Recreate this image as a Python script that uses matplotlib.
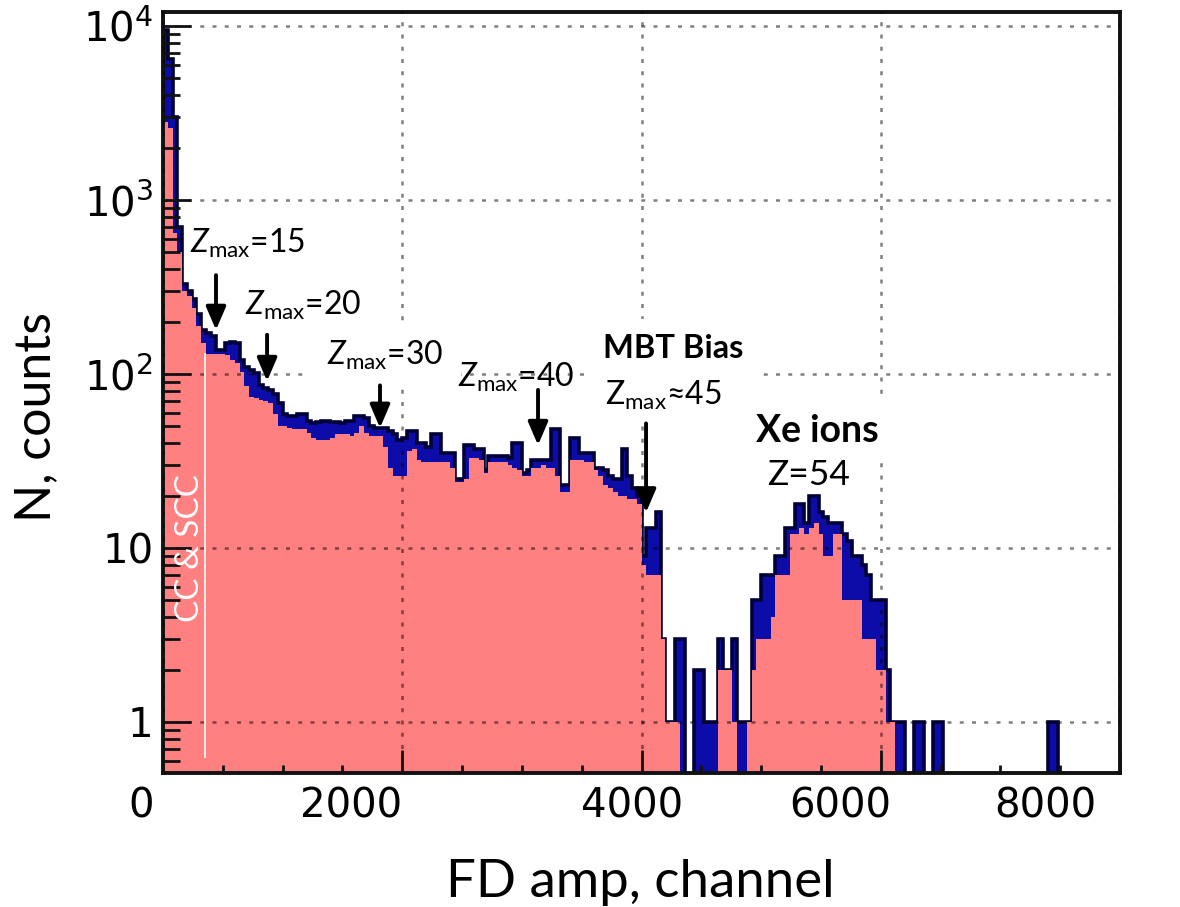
import numpy as np
import matplotlib
matplotlib.use("Agg")
import matplotlib.pyplot as plt
from matplotlib import transforms
from matplotlib.ticker import FixedLocator, FixedFormatter, LogLocator, MultipleLocator, NullFormatter

# histogram, 40 channels per bin
bin_width = 40
n_bins = 200

# total spectrum (blue)
blue_counts = [
    9500, 6500, 3000, 700, 330, 300, 270, 220, 178, 172,
    165, 137, 137, 150, 153, 150, 120, 110, 105, 101,
    86, 83, 81, 77, 68, 59, 57, 57, 59, 59,
    54, 52, 53, 54, 54, 53, 53, 52, 54, 54,
    57, 57, 56, 50, 49, 49, 49, 47, 45, 42,
    43, 47, 47, 40, 40, 38, 45, 45, 35, 35,
    35, 25, 25, 39, 39, 37, 37, 28, 34, 34,
    34, 34, 33, 40, 40, 27, 28, 32, 32, 32,
    32, 48, 48, 23, 23, 43, 43, 35, 35, 35,
    29, 29, 28, 26, 25, 25, 37, 26, 22, 20,
    9, 13, 13, 16, 3, 1, 1, 3, 3, 0,
    0, 2, 2, 1, 1, 1, 3, 2, 2, 3,
    1, 1, 1, 5, 5, 7, 7, 7, 9, 9,
    13, 13, 18, 18, 14, 20, 20, 16, 15, 14,
    14, 14, 12, 11, 9, 9, 8, 7, 5, 5,
    5, 2, 1, 1, 1, 0, 0, 1, 1, 0,
    0, 1, 1, 0, 0, 0, 0, 0, 0, 0,
    0, 0, 0, 0, 0, 0, 0, 0, 0, 0,
    0, 0, 0, 0, 0, 1, 1,
]

# selected events (red)
red_counts = [
    2800, 2600, 650, 500, 300, 280, 240, 190, 150, 131,
    131, 131, 131, 128, 120, 115, 103, 85, 74, 73,
    71, 70, 68, 59, 50, 50, 49, 48, 48, 48,
    46, 43, 42, 42, 42, 43, 45, 45, 45, 44,
    46, 50, 46, 44, 44, 44, 38, 29, 26, 26,
    26, 36, 37, 32, 31, 31, 31, 31, 31, 31,
    29, 24, 24, 25, 33, 33, 32, 27, 31, 31,
    31, 31, 30, 29, 28, 26, 26, 29, 29, 30,
    29, 29, 26, 21, 21, 32, 32, 32, 31, 31,
    28, 26, 23, 22, 21, 20, 20, 19, 19, 18,
    8, 7, 7, 7, 3, 1, 1, 1, 0, 0,
    0, 0, 0, 0, 0, 0, 2, 2, 2, 1,
    0, 0, 1, 2, 3, 3, 3, 4, 7, 7,
    7, 12, 12, 13, 12, 13, 14, 12, 9, 9,
    12, 12, 5, 5, 5, 5, 3, 3, 3, 2,
    2, 1, 1,
]

xtick_vals = [0, 2000, 4000, 6000, 8000]
xtick_shift_px = [-22, -51, -9, -40, -75]
ytick_vals = [1, 10, 100, 1000, 10000]
ytick_labels = ["1", "10", r"$\mathdefault{10^{2}}$", r"$\mathdefault{10^{3}}$", r"$\mathdefault{10^{4}}$"]

# Z_max markers
zmax_labels = [r"$\mathit{Z}_{\mathrm{max}}$=15", r"$\mathit{Z}_{\mathrm{max}}$=20",
               r"$\mathit{Z}_{\mathrm{max}}$=30", r"$\mathit{Z}_{\mathrm{max}}$=40"]
zmax_text_x = [226, 686, 1371, 2467]
zmax_text_y = [496, 218, 113, 84]
zmax_boxed = [False, False, True, False]
arrow_x = [443, 870, 1814, 3135, 4038]
arrow_tail = [370, 168, 86, 81, 52]
arrow_tip = [179, 91, 49, 39, 16]

cc_line_x = 350
cc_line_y = [0.63, 130]


def padded(counts):
    arr = np.full(n_bins, 1e-3)
    vals = np.array(counts, dtype=float)
    arr[:len(vals)] = np.where(vals > 0, vals, 1e-3)
    return arr


edges = np.arange(n_bins + 1) * bin_width
blue = padded(blue_counts)
red = padded(red_counts)

plt.rcParams["mathtext.fontset"] = "custom"
plt.rcParams["mathtext.rm"] = "Lato"
plt.rcParams["mathtext.it"] = "Lato:italic"
plt.rcParams["mathtext.bf"] = "Lato:bold"

W, H = 1180, 907
fig = plt.figure(figsize=(W / 100, H / 100), dpi=100)
ax = fig.add_axes([163 / W, 1 - 773 / H, (1120 - 163) / W, (773 - 12) / H])
ax.set_yscale("log")
ax.set_xlim(0, 8000)
ax.set_ylim(0.509, 12040)

ax.stairs(blue, edges, baseline=1e-3, fill=True, color="#0c0ca8", zorder=1)
ax.stairs(blue, edges, baseline=1e-3, fill=False, color="#000038", lw=2.6, zorder=1.2)
ax.stairs(red, edges, baseline=1e-3, fill=True, color="#ff8080", zorder=1.5)

# grid on top of the fills
ax.set_axisbelow(False)
ax.grid(True, which="major", color="k", alpha=0.5, lw=1.8, linestyle=(0, (1.6, 3.3)))

for s in ax.spines.values():
    s.set_linewidth(2.8)
    s.set_color("#111111")

ax.xaxis.set_major_locator(FixedLocator(xtick_vals))
ax.xaxis.set_minor_locator(MultipleLocator(500))
ax.yaxis.set_major_locator(FixedLocator(ytick_vals))
ax.yaxis.set_major_formatter(FixedFormatter(ytick_labels))
ax.yaxis.set_minor_locator(LogLocator(base=10, subs=np.arange(2, 10)))
ax.yaxis.set_minor_formatter(NullFormatter())
ax.tick_params(axis="both", which="both", direction="in", top=False, right=False, color="#111111")
ax.tick_params(axis="x", which="major", length=16.5, width=2, labelbottom=False)
ax.tick_params(axis="x", which="minor", length=6, width=2)
ax.tick_params(axis="y", which="major", length=20, width=2, pad=7, labelsize=29,
               labelfontfamily="DejaVu Sans")
ax.tick_params(axis="y", which="minor", length=12, width=2)
for lab in ax.get_yticklabels():
    lab.set_math_fontfamily("dejavusans")

# x tick labels, placed as in the original
xtrans = transforms.blended_transform_factory(ax.transData, ax.transAxes)
for v, dx in zip(xtick_vals, xtick_shift_px):
    off = transforms.ScaledTranslation(dx / 100, -13 / 100, fig.dpi_scale_trans)
    ax.text(v, 0, str(v), transform=xtrans + off, ha="center", va="top", fontsize=29,
            family="DejaVu Sans", clip_on=False)

lato = ["Lato", "DejaVu Sans"]
fig.text(640 / W, 1 - 882 / H, "FD amp, channel", family=lato, fontsize=38, ha="center", va="center")
fig.text(36 / W, 1 - 417 / H, "N, counts", family=lato, fontsize=36, rotation=90,
         ha="center", va="center")

# CC & SCC marker
ax.plot([cc_line_x, cc_line_x], cc_line_y, color="white", lw=1.2, zorder=3)
ax.text(226, 10, "CC & SCC", color="white", family=lato, fontsize=24, rotation=90,
        ha="center", va="center", zorder=3)

white_box = dict(boxstyle="square,pad=0.55", fc="white", ec="none")
for lab, tx, ty, boxed in zip(zmax_labels, zmax_text_x, zmax_text_y, zmax_boxed):
    ax.text(tx, ty, lab, family=lato, fontsize=23, math_fontfamily="custom",
            ha="left", va="baseline", bbox=white_box if boxed else None, zorder=4)

ax.text(3679, 124, "MBT Bias", family=lato, fontsize=23.5, fontweight="bold", ha="left",
        va="baseline", bbox=dict(boxstyle="square,pad=0.45", fc="white", ec="none"), zorder=4)
ax.text(3696, 66, r"$\mathrm{Z}_{\mathrm{max}}$≈45", family=lato, fontsize=23,
        math_fontfamily="custom", ha="left", va="baseline",
        bbox=dict(boxstyle="square,pad=0.3", fc="white", ec="none"), zorder=4)
ax.text(5468, 40.6, "Xe ions", family=lato, fontsize=27, fontweight="bold", ha="center",
        va="baseline", bbox=dict(boxstyle="square,pad=0.4", fc="white", ec="none"), zorder=4)
ax.text(5393, 23, "Z=54", family=lato, fontsize=25.5, ha="center", va="baseline", zorder=4)

for x, y0, y1 in zip(arrow_x, arrow_tail, arrow_tip):
    ax.annotate("", xy=(x, y1), xytext=(x, y0),
                arrowprops=dict(arrowstyle="-|>,head_length=0.7,head_width=0.3", lw=2.8,
                                color="k", shrinkA=0, shrinkB=0, mutation_scale=20),
                zorder=5)

fig.savefig("out.png", dpi=100)
